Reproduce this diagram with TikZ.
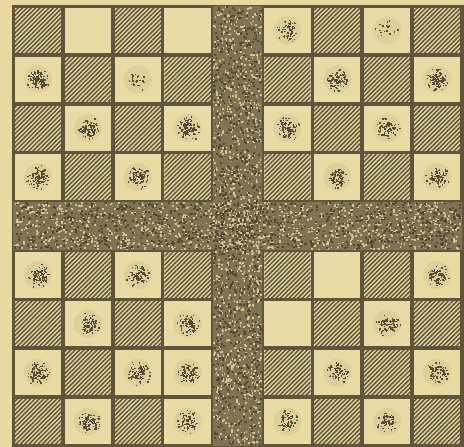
\documentclass[tikz,border=0pt]{standalone}
\usetikzlibrary{patterns.meta}
\definecolor{paper}{HTML}{E9D8A0}
\definecolor{pale}{HTML}{EADAA4}
\definecolor{ink}{HTML}{5F553C}
\definecolor{bandtone}{HTML}{807352}
\pgfmathsetseed{4711}
\begin{document}
\begin{tikzpicture}[x=1pt, y=-1pt,
    hatchcell/.style={preaction={fill=paper}, pattern={Lines[angle=45, distance=3.1pt, line width=1.5pt]}, pattern color=ink},
    palecell/.style={fill=pale},
    speck/.style={fill=ink!90!black},
  ]
  % paper and board frame
  \useasboundingbox (0,0) rectangle (464,447);
  \fill[paper] (0,0) rectangle (464,447);
  \fill[ink] (11.5,4.5) rectangle (463.5,447);
  % cells, checker order, middle row and column left out
  \foreach \r in {0,...,8}{
    \foreach \c in {0,...,8}{
      \ifnum\r=4 \else\ifnum\c=4 \else
        \pgfmathtruncatemacro\odd{mod(\r+\c,2)}
        \pgfmathsetmacro\xa{13+49.89*\c+1.8}
        \pgfmathsetmacro\ya{6+48.89*\r+1.8}
        \ifnum\odd=0
          \fill[hatchcell] (\xa,\ya) rectangle ++(46.3,45.3);
        \else
          \fill[palecell] (\xa,\ya) rectangle ++(46.3,45.3);
        \fi
      \fi\fi
    }
  }
  % the one pale square out of order
  \fill[palecell] (13+49.89*3+1.8,6+48.89*7+1.8) rectangle ++(46.3,45.3);
  % speckled cross
  \fill[bandtone] (13,6+48.89*4) rectangle (462,6+48.89*5);
  \fill[bandtone] (13+49.89*4,6) rectangle (13+49.89*5,446);
  \foreach \k in {1,...,1100}{
    \pgfmathsetmacro\px{13+447*rnd}
    \pgfmathsetmacro\py{6+48.89*4+47*rnd}
    \fill[paper!85!ink] (\px,\py) rectangle ++(1.8,1.6);
  }
  \foreach \k in {1,...,1100}{
    \pgfmathsetmacro\px{13+49.89*4+48*rnd}
    \pgfmathsetmacro\py{6+438*rnd}
    \fill[paper!85!ink] (\px,\py) rectangle ++(1.6,1.8);
  }
  \foreach \k in {1,...,900}{
    \pgfmathsetmacro\px{13+447*rnd}
    \pgfmathsetmacro\py{6+48.89*4+47*rnd}
    \fill[ink!85!black] (\px,\py) rectangle ++(2,1.8);
  }
  \foreach \k in {1,...,900}{
    \pgfmathsetmacro\px{13+49.89*4+48*rnd}
    \pgfmathsetmacro\py{6+438*rnd}
    \fill[ink!85!black] (\px,\py) rectangle ++(1.8,2);
  }
  % blots in the pale squares: row/column/dots
  \foreach \r/\c/\n in {0/5/70, 0/7/18, 1/0/105, 1/2/25, 1/6/95, 1/8/105,
      2/1/95, 2/3/105, 2/5/100, 2/7/75, 3/0/105, 3/2/95, 3/6/95, 3/8/85,
      5/0/95, 5/2/85, 5/8/85, 6/1/90, 6/3/80, 6/7/80,
      7/0/100, 7/2/95, 7/3/100, 7/6/65, 7/8/70, 8/1/90, 8/3/75, 8/5/65, 8/7/60}{
    \pgfmathsetmacro\cx{13+49.89*(\c+0.5)}
    \pgfmathsetmacro\cy{6+48.89*(\r+0.5)}
    \fill[ink, opacity=0.08] (\cx,\cy) circle (14);
    \foreach \k in {1,...,\n}{
      \pgfmathsetmacro\aa{360*rnd}
      \pgfmathsetmacro\dd{13*sqrt(rnd)*(0.4+0.6*rnd)}
      \fill[speck] (\cx,\cy) ++(\aa:\dd) rectangle ++(1.4,1.4);
    }
  }
\end{tikzpicture}
\end{document}
